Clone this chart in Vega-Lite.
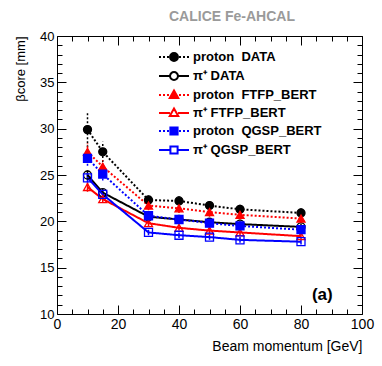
{
  "$schema": "https://vega.github.io/schema/vega-lite/v6.json",
  "width": 305,
  "height": 278,
  "autosize": {"type": "none"},
  "padding": {"left": 57, "top": 36, "right": 20, "bottom": 52},
  "config": {
    "font": "Liberation Sans",
    "view": {"stroke": "black", "strokeWidth": 1},
    "axis": {"labelFont": "Liberation Sans", "titleFont": "Liberation Sans", "labelColor": "black", "titleColor": "black", "tickColor": "black", "titleFontWeight": "normal"}
  },
  "title": {"text": "CALICE Fe-AHCAL", "anchor": "start", "frame": "group", "dx": 112, "offset": 6, "fontSize": 14, "fontWeight": "bold", "color": "#9a9a9a", "font": "Liberation Sans"},
  "data": {"values": [
    {"s": "proton\u00a0\u00a0DATA", "p": 10, "v": 29.9, "lo": 28.0, "hi": 31.8},
    {"s": "proton\u00a0\u00a0DATA", "p": 15, "v": 27.5, "lo": 26.4, "hi": 28.6},
    {"s": "proton\u00a0\u00a0DATA", "p": 30, "v": 22.3, "lo": 21.8, "hi": 22.8},
    {"s": "proton\u00a0\u00a0DATA", "p": 40, "v": 22.2, "lo": 21.7, "hi": 22.7},
    {"s": "proton\u00a0\u00a0DATA", "p": 50, "v": 21.7, "lo": 21.2, "hi": 22.2},
    {"s": "proton\u00a0\u00a0DATA", "p": 60, "v": 21.3, "lo": 20.8, "hi": 21.8},
    {"s": "proton\u00a0\u00a0DATA", "p": 80, "v": 20.9, "lo": 20.4, "hi": 21.4},
    {"s": "\u03c0\u207a DATA", "p": 10, "v": 25.0, "lo": 24.5, "hi": 25.5},
    {"s": "\u03c0\u207a DATA", "p": 15, "v": 23.1, "lo": 22.7, "hi": 23.5},
    {"s": "\u03c0\u207a DATA", "p": 30, "v": 20.5, "lo": 20.2, "hi": 20.8},
    {"s": "\u03c0\u207a DATA", "p": 40, "v": 20.2, "lo": 19.9, "hi": 20.5},
    {"s": "\u03c0\u207a DATA", "p": 50, "v": 19.9, "lo": 19.6, "hi": 20.2},
    {"s": "\u03c0\u207a DATA", "p": 60, "v": 19.7, "lo": 19.4, "hi": 20.0},
    {"s": "\u03c0\u207a DATA", "p": 80, "v": 19.4, "lo": 19.1, "hi": 19.7},
    {"s": "proton\u00a0\u00a0FTFP_BERT", "p": 10, "v": 27.5, "lo": 26.6, "hi": 28.4},
    {"s": "proton\u00a0\u00a0FTFP_BERT", "p": 15, "v": 25.9, "lo": 25.2, "hi": 26.6},
    {"s": "proton\u00a0\u00a0FTFP_BERT", "p": 30, "v": 21.7, "lo": 21.2, "hi": 22.2},
    {"s": "proton\u00a0\u00a0FTFP_BERT", "p": 40, "v": 21.4, "lo": 20.9, "hi": 21.9},
    {"s": "proton\u00a0\u00a0FTFP_BERT", "p": 50, "v": 21.0, "lo": 20.5, "hi": 21.5},
    {"s": "proton\u00a0\u00a0FTFP_BERT", "p": 60, "v": 20.7, "lo": 20.2, "hi": 21.2},
    {"s": "proton\u00a0\u00a0FTFP_BERT", "p": 80, "v": 20.3, "lo": 19.8, "hi": 20.8},
    {"s": "\u03c0\u207a FTFP_BERT", "p": 10, "v": 23.7, "lo": 23.2, "hi": 24.2},
    {"s": "\u03c0\u207a FTFP_BERT", "p": 15, "v": 22.4, "lo": 22.0, "hi": 22.8},
    {"s": "\u03c0\u207a FTFP_BERT", "p": 30, "v": 19.8, "lo": 19.5, "hi": 20.1},
    {"s": "\u03c0\u207a FTFP_BERT", "p": 40, "v": 19.3, "lo": 19.0, "hi": 19.6},
    {"s": "\u03c0\u207a FTFP_BERT", "p": 50, "v": 19.0, "lo": 18.7, "hi": 19.3},
    {"s": "\u03c0\u207a FTFP_BERT", "p": 60, "v": 18.8, "lo": 18.5, "hi": 19.1},
    {"s": "\u03c0\u207a FTFP_BERT", "p": 80, "v": 18.4, "lo": 18.1, "hi": 18.7},
    {"s": "proton\u00a0\u00a0QGSP_BERT", "p": 10, "v": 26.8, "lo": 26.0, "hi": 27.6},
    {"s": "proton\u00a0\u00a0QGSP_BERT", "p": 15, "v": 25.1, "lo": 24.4, "hi": 25.8},
    {"s": "proton\u00a0\u00a0QGSP_BERT", "p": 30, "v": 20.6, "lo": 20.2, "hi": 21.0},
    {"s": "proton\u00a0\u00a0QGSP_BERT", "p": 40, "v": 20.2, "lo": 19.8, "hi": 20.6},
    {"s": "proton\u00a0\u00a0QGSP_BERT", "p": 50, "v": 19.8, "lo": 19.4, "hi": 20.2},
    {"s": "proton\u00a0\u00a0QGSP_BERT", "p": 60, "v": 19.5, "lo": 19.1, "hi": 19.9},
    {"s": "proton\u00a0\u00a0QGSP_BERT", "p": 80, "v": 19.1, "lo": 18.7, "hi": 19.5},
    {"s": "\u03c0\u207a QGSP_BERT", "p": 10, "v": 24.7, "lo": 24.2, "hi": 25.2},
    {"s": "\u03c0\u207a QGSP_BERT", "p": 15, "v": 22.9, "lo": 22.5, "hi": 23.3},
    {"s": "\u03c0\u207a QGSP_BERT", "p": 30, "v": 18.8, "lo": 18.5, "hi": 19.1},
    {"s": "\u03c0\u207a QGSP_BERT", "p": 40, "v": 18.5, "lo": 18.2, "hi": 18.8},
    {"s": "\u03c0\u207a QGSP_BERT", "p": 50, "v": 18.3, "lo": 18.0, "hi": 18.6},
    {"s": "\u03c0\u207a QGSP_BERT", "p": 60, "v": 18.0, "lo": 17.7, "hi": 18.3},
    {"s": "\u03c0\u207a QGSP_BERT", "p": 80, "v": 17.8, "lo": 17.5, "hi": 18.1}
  ]},
  "layer": [
    {
      "mark": {"type": "rule", "strokeWidth": 1.5},
      "encoding": {
        "x": {"field": "p", "type": "quantitative", "scale": {"domain": [0, 100], "nice": false, "zero": false},
          "axis": {"orient": "bottom", "values": [0,5,10,15,20,25,30,35,40,45,50,55,60,65,70,75,80,85,90,95,100],
            "labelExpr": "datum.value % 20 === 0 ? datum.label : ''",
            "tickSize": {"condition": {"test": "datum.value % 20 === 0", "value": -9}, "value": -5},
            "domain": false, "grid": false, "labelFontSize": 14, "labelPadding": 12, "labelFlush": false, "labelOverlap": false,
            "title": "Beam momentum [GeV]", "titleAnchor": "end", "titleFontSize": 14, "titlePadding": 4}},
        "y": {"field": "lo", "type": "quantitative", "scale": {"domain": [10, 40], "nice": false, "zero": false},
          "axis": {"orient": "left", "values": [10,11,12,13,14,15,16,17,18,19,20,21,22,23,24,25,26,27,28,29,30,31,32,33,34,35,36,37,38,39,40],
            "labelExpr": "datum.value % 5 === 0 ? datum.label : ''",
            "tickSize": {"condition": {"test": "datum.value % 5 === 0", "value": -9}, "value": -5},
            "domain": false, "grid": false, "labelFontSize": 13, "labelPadding": 12, "labelFlush": false, "labelOverlap": false,
            "title": "\u03b2core [mm]", "titleAnchor": "end", "titleFontSize": 13, "titlePadding": 12}},
        "y2": {"field": "hi"},
        "color": {"field": "s", "type": "nominal", "legend": null,
          "scale": {"domain": ["proton\u00a0\u00a0DATA", "\u03c0\u207a DATA", "proton\u00a0\u00a0FTFP_BERT", "\u03c0\u207a FTFP_BERT", "proton\u00a0\u00a0QGSP_BERT", "\u03c0\u207a QGSP_BERT"],
            "range": ["#000000", "#000000", "#ff0000", "#ff0000", "#0000ff", "#0000ff"]}},
        "strokeDash": {"field": "s", "type": "nominal", "legend": null,
          "scale": {"domain": ["proton\u00a0\u00a0DATA", "\u03c0\u207a DATA", "proton\u00a0\u00a0FTFP_BERT", "\u03c0\u207a FTFP_BERT", "proton\u00a0\u00a0QGSP_BERT", "\u03c0\u207a QGSP_BERT"],
            "range": [[2, 2], [1, 0], [2, 2], [1, 0], [2, 2], [1, 0]]}}
      }
    },
    {
      "mark": {"type": "line", "strokeWidth": 2},
      "encoding": {
        "x": {"field": "p", "type": "quantitative", "axis": null},
        "y": {"field": "v", "type": "quantitative", "axis": null},
        "color": {"field": "s", "type": "nominal", "legend": null},
        "strokeDash": {"field": "s", "type": "nominal", "legend": null}
      }
    },
    {
      "mark": {"type": "point", "filled": true, "size": 64, "strokeWidth": 1.3, "opacity": 1},
      "encoding": {
        "x": {"field": "p", "type": "quantitative",
          "axis": {"orient": "top", "values": [0,5,10,15,20,25,30,35,40,45,50,55,60,65,70,75,80,85,90,95,100],
            "tickSize": {"condition": {"test": "datum.value % 20 === 0", "value": -9}, "value": -5},
            "labels": false, "domain": false, "grid": false, "title": null}},
        "y": {"field": "v", "type": "quantitative",
          "axis": {"orient": "right", "values": [10,11,12,13,14,15,16,17,18,19,20,21,22,23,24,25,26,27,28,29,30,31,32,33,34,35,36,37,38,39,40],
            "tickSize": {"condition": {"test": "datum.value % 5 === 0", "value": -9}, "value": -5},
            "labels": false, "domain": false, "grid": false, "title": null}},
        "stroke": {"field": "s", "type": "nominal", "legend": null,
          "scale": {"domain": ["proton\u00a0\u00a0DATA", "\u03c0\u207a DATA", "proton\u00a0\u00a0FTFP_BERT", "\u03c0\u207a FTFP_BERT", "proton\u00a0\u00a0QGSP_BERT", "\u03c0\u207a QGSP_BERT"],
            "range": ["#000000", "#000000", "#ff0000", "#ff0000", "#0000ff", "#0000ff"]}},
        "fill": {"field": "s", "type": "nominal", "legend": null,
          "scale": {"domain": ["proton\u00a0\u00a0DATA", "\u03c0\u207a DATA", "proton\u00a0\u00a0FTFP_BERT", "\u03c0\u207a FTFP_BERT", "proton\u00a0\u00a0QGSP_BERT", "\u03c0\u207a QGSP_BERT"],
            "range": ["#000000", "transparent", "#ff0000", "transparent", "#0000ff", "transparent"]}},
        "shape": {"field": "s", "type": "nominal", "legend": null,
          "scale": {"domain": ["proton\u00a0\u00a0DATA", "\u03c0\u207a DATA", "proton\u00a0\u00a0FTFP_BERT", "\u03c0\u207a FTFP_BERT", "proton\u00a0\u00a0QGSP_BERT", "\u03c0\u207a QGSP_BERT"],
            "range": ["circle", "circle", "triangle-up", "triangle-up", "square", "square"]}}
      }
    },
    {
      "transform": [{"filter": "false"}],
      "mark": {"type": "point", "filled": true, "opacity": 1, "strokeWidth": 2},
      "encoding": {
        "shape": {"field": "s", "type": "nominal",
          "scale": {"domain": ["proton\u00a0\u00a0DATA", "\u03c0\u207a DATA", "proton\u00a0\u00a0FTFP_BERT", "\u03c0\u207a FTFP_BERT", "proton\u00a0\u00a0QGSP_BERT", "\u03c0\u207a QGSP_BERT"],
            "range": [
              "M-1.667,0H-1.444M-1.222,0H-1M-0.778,0H-0.556M0.556,0H0.778M1,0H1.222M1.444,0H1.667M-0.44,0A0.44,0.44,0,1,1,0.44,0A0.44,0.44,0,1,1,-0.44,0Z",
              "M-1.667,0H-0.44M0.44,0H1.667M-0.44,0A0.44,0.44,0,1,1,0.44,0A0.44,0.44,0,1,1,-0.44,0Z",
              "M-1.667,0H-1.444M-1.222,0H-1M-0.778,0H-0.556M0.556,0H0.778M1,0H1.222M1.444,0H1.667M0,-0.5L0.47,0.33L-0.47,0.33Z",
              "M-1.667,0H-0.45M0.45,0H1.667M0,-0.5L0.47,0.33L-0.47,0.33Z",
              "M-1.667,0H-1.444M-1.222,0H-1M-0.778,0H-0.556M0.556,0H0.778M1,0H1.222M1.444,0H1.667M-0.4,-0.4H0.4V0.4H-0.4Z",
              "M-1.667,0H-0.4M0.4,0H1.667M-0.4,-0.4H0.4V0.4H-0.4Z"
            ]},
          "legend": {"orient": "none", "legendX": 107, "legendY": 11, "title": null,
            "symbolSize": 324, "symbolStrokeWidth": 2, "symbolOpacity": 1, "labelOffset": 9,
            "labelFont": "Liberation Sans", "labelFontSize": 13, "labelFontWeight": "bold", "labelColor": "black",
            "rowPadding": 1, "labelLimit": 300}},
        "stroke": {"field": "s", "type": "nominal",
          "scale": {"domain": ["proton\u00a0\u00a0DATA", "\u03c0\u207a DATA", "proton\u00a0\u00a0FTFP_BERT", "\u03c0\u207a FTFP_BERT", "proton\u00a0\u00a0QGSP_BERT", "\u03c0\u207a QGSP_BERT"],
            "range": ["#000000", "#000000", "#ff0000", "#ff0000", "#0000ff", "#0000ff"]},
          "legend": {"orient": "none", "legendX": 107, "legendY": 11, "title": null,
            "symbolSize": 324, "symbolStrokeWidth": 2, "symbolOpacity": 1, "labelOffset": 9,
            "labelFont": "Liberation Sans", "labelFontSize": 13, "labelFontWeight": "bold", "labelColor": "black",
            "rowPadding": 1, "labelLimit": 300}},
        "fill": {"field": "s", "type": "nominal",
          "scale": {"domain": ["proton\u00a0\u00a0DATA", "\u03c0\u207a DATA", "proton\u00a0\u00a0FTFP_BERT", "\u03c0\u207a FTFP_BERT", "proton\u00a0\u00a0QGSP_BERT", "\u03c0\u207a QGSP_BERT"],
            "range": ["#000000", "transparent", "#ff0000", "transparent", "#0000ff", "transparent"]},
          "legend": {"orient": "none", "legendX": 107, "legendY": 11, "title": null,
            "symbolSize": 324, "symbolStrokeWidth": 2, "symbolOpacity": 1, "labelOffset": 9,
            "labelFont": "Liberation Sans", "labelFontSize": 13, "labelFontWeight": "bold", "labelColor": "black",
            "rowPadding": 1, "labelLimit": 300}}
      }
    },
    {
      "data": {"values": [{"label": "(a)"}]},
      "mark": {"type": "text", "fontSize": 17, "fontWeight": "bold", "font": "Liberation Sans", "color": "black", "align": "center", "baseline": "middle"},
      "encoding": {
        "x": {"datum": 87, "type": "quantitative", "axis": null},
        "y": {"datum": 12, "type": "quantitative", "axis": null},
        "text": {"field": "label", "type": "nominal"}
      }
    }
  ],
  "resolve": {"scale": {"shape": "independent", "stroke": "independent", "fill": "independent"}, "axis": {"x": "independent", "y": "independent"}}
}
